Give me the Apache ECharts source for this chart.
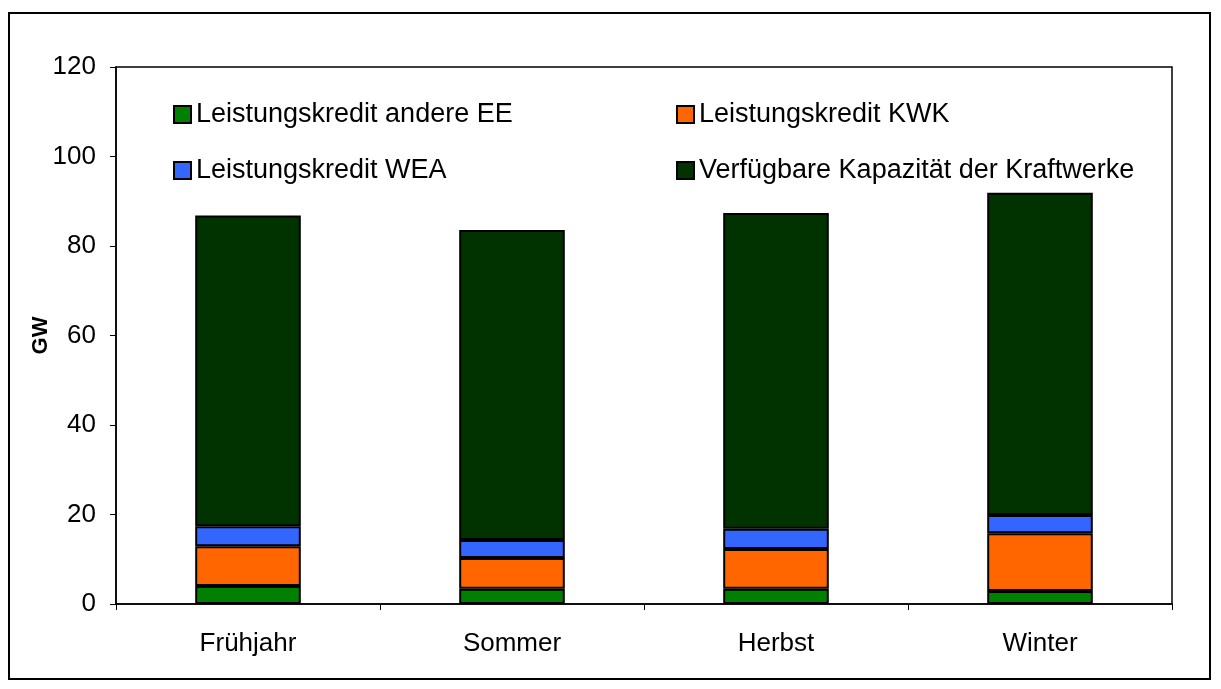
<!DOCTYPE html>
<html>
<head>
<meta charset="utf-8">
<script src="https://cdn.jsdelivr.net/npm/echarts@6/dist/echarts.min.js"></script>
<style>
  html, body { margin: 0; padding: 0; background: #fff; }
  #myChart { width: 1221px; height: 689px; }
</style>
</head>
<body>
<div id="myChart"></div>
<script>
// Jahreszeiten
const seasons = ['Frühjahr', 'Sommer', 'Herbst', 'Winter']
// Werte in GW
const andereEE = [4.0, 3.4, 3.4, 2.9]
const kwk = [8.9, 6.9, 8.9, 12.9]
const wea = [4.5, 4.0, 4.5, 4.1]
const kraftwerke = [69.4, 69.3, 70.6, 72.0]

const seriesNames = [
  'Leistungskredit andere EE',
  'Leistungskredit KWK',
  'Leistungskredit WEA',
  'Verfügbare Kapazität der Kraftwerke',
]
const seriesColors = ['#008000', '#FF6600', '#3366FF', '#003300']
const seriesData = [andereEE, kwk, wea, kraftwerke]

const font = 'Liberation Sans, Arial, sans-serif'

let myChart = echarts.init(document.getElementById('myChart'))

const legendBase = {
  orient: 'vertical',
  icon: 'rect',
  itemWidth: 17,
  itemHeight: 17,
  itemGap: 29,
  padding: 0,
  itemStyle: { borderColor: '#000', borderWidth: 2 },
  textStyle: { fontFamily: font, fontSize: 27, color: '#000' },
}

myChart.setOption({
  animation: false,
  graphic: [
    {
      type: 'rect',
      shape: { x: 9, y: 13, width: 1201, height: 666 },
      style: { fill: 'none', stroke: '#000', lineWidth: 2 },
    },
  ],
  legend: [
    Object.assign({}, legendBase, {
      left: 173,
      top: 101,
      data: [seriesNames[0], seriesNames[2]],
    }),
    Object.assign({}, legendBase, {
      left: 676,
      top: 101,
      data: [seriesNames[1], seriesNames[3]],
    }),
  ],
  grid: {
    left: 116,
    top: 67,
    right: 49,
    bottom: 85,
    show: true,
    borderColor: '#000',
    borderWidth: 1.5,
  },
  xAxis: {
    type: 'category',
    data: seasons,
    axisLine: { lineStyle: { color: '#000', width: 1.5 } },
    axisTick: { show: true, length: 6, lineStyle: { color: '#000' } },
    axisLabel: { fontFamily: font, fontSize: 26, color: '#000', margin: 27 },
  },
  yAxis: {
    type: 'value',
    min: 0,
    max: 120,
    interval: 20,
    name: 'GW',
    nameLocation: 'middle',
    nameGap: 64,
    nameMoveOverlap: false,
    nameTextStyle: { fontFamily: font, fontSize: 22, fontWeight: 'bold', color: '#000' },
    axisLine: { show: true, lineStyle: { color: '#000', width: 1.5 } },
    axisTick: { show: true, length: 6, lineStyle: { color: '#000' } },
    axisLabel: { fontFamily: font, fontSize: 26, color: '#000', margin: 20 },
    splitLine: { show: false },
  },
  series: seriesNames.map((name, i) => ({
    name: name,
    type: 'bar',
    stack: 'total',
    barWidth: '40%',
    data: seriesData[i],
    itemStyle: { color: seriesColors[i], borderColor: '#000', borderWidth: 2 },
  })),
})
</script>
</body>
</html>
